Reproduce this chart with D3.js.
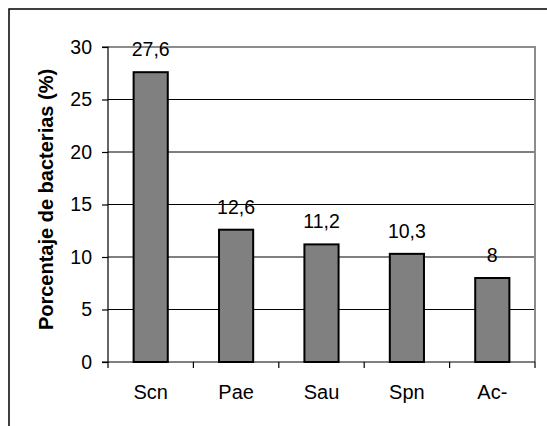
<!DOCTYPE html>
<html>
<head>
<meta charset="utf-8">
<script src="https://cdn.jsdelivr.net/npm/d3@7"></script>
<style>
  html, body { margin: 0; padding: 0; background: #fff; }
  svg { display: block; font-family: "Liberation Sans", Arial, sans-serif; }
</style>
</head>
<body>
<svg id="chart" width="547" height="426"></svg>
<script>
const categories = ["Scn", "Pae", "Sau", "Spn", "Ac-"];
const values = [27.6, 12.6, 11.2, 10.3, 8];
const valueLabels = ["27,6", "12,6", "11,2", "10,3", "8"];
const yTicks = [0, 5, 10, 15, 20, 25, 30];
const yTitle = "Porcentaje de bacterias (%)";

const svg = d3.select("#chart");
const W = 547, H = 426;
const plot = { left: 108, right: 535, top: 47, bottom: 362 };

svg.append("rect").attr("width", W).attr("height", H).attr("fill", "#fff");

// outer frame (top and left visible)
svg.append("path")
  .attr("d", `M9,${H} L9,9 L${W},9`)
  .attr("fill", "none").attr("stroke", "#000").attr("stroke-width", 1.5);

const x = d3.scaleBand().domain(categories).range([plot.left, plot.right]).padding(0);
const y = d3.scaleLinear().domain([0, 30]).range([plot.bottom, plot.top]);

// gridlines
svg.append("g").selectAll("line")
  .data(yTicks.filter(t => t > 0 && t < 30))
  .join("line")
  .attr("x1", plot.left).attr("x2", plot.right)
  .attr("y1", d => y(d)).attr("y2", d => y(d))
  .attr("stroke", "#000").attr("stroke-width", 1);

// plot area border (gray top & right)
svg.append("path")
  .attr("d", `M${plot.left},${y(30)} L${plot.right},${y(30)} L${plot.right},${plot.bottom}`)
  .attr("fill", "none").attr("stroke", "#8c8c8c").attr("stroke-width", 2);

// bars
const barW = x.bandwidth() * 0.4;
svg.append("g").selectAll("rect")
  .data(values)
  .join("rect")
  .attr("x", (d, i) => x(categories[i]) + x.bandwidth() / 2 - barW / 2)
  .attr("y", d => y(d))
  .attr("width", barW)
  .attr("height", d => y(0) - y(d))
  .attr("fill", "#808080")
  .attr("stroke", "#000")
  .attr("stroke-width", 2);

// value labels
svg.append("g").selectAll("text")
  .data(values)
  .join("text")
  .attr("x", (d, i) => x(categories[i]) + x.bandwidth() / 2)
  .attr("y", d => y(d) - 16)
  .attr("text-anchor", "middle")
  .attr("font-size", 19.5)
  .attr("fill", "#000")
  .text((d, i) => valueLabels[i]);

// y axis
const yAxis = d3.axisLeft(y).tickValues(yTicks).tickSize(6).tickPadding(10).tickFormat(d3.format("d"));
const gy = svg.append("g").attr("transform", `translate(${plot.left},0)`).call(yAxis);
gy.attr("font-size", 19.5).attr("font-family", "Liberation Sans, Arial, sans-serif");
gy.select(".domain").attr("stroke", "#000").attr("stroke-width", 1.2).attr("d", `M-6,${plot.top}H0V${plot.bottom}H-6`);
gy.selectAll(".tick line").attr("stroke", "#000").attr("stroke-width", 1.2);
gy.selectAll(".tick text").attr("font-size", 19.5).attr("fill", "#000");

// x axis
const gx = svg.append("g").attr("transform", `translate(0,${plot.bottom})`);
gx.append("line").attr("x1", plot.left).attr("x2", plot.right).attr("y1", 0).attr("y2", 0)
  .attr("stroke", "#000").attr("stroke-width", 1.2);
const boundaries = categories.map(c => x(c)).concat([x(categories[categories.length - 1]) + x.bandwidth()]);
gx.selectAll("line.tk").data(boundaries).join("line").attr("class", "tk")
  .attr("x1", d => d).attr("x2", d => d).attr("y1", 0).attr("y2", 6)
  .attr("stroke", "#000").attr("stroke-width", 1.2);
gx.selectAll("text").data(categories).join("text")
  .attr("x", d => x(d) + x.bandwidth() / 2)
  .attr("y", 36.5)
  .attr("text-anchor", "middle")
  .attr("font-size", 20)
  .attr("fill", "#000")
  .text(d => d);

// y title
svg.append("text")
  .attr("transform", `translate(53,${(plot.top + plot.bottom) / 2 - 5}) rotate(-90)`)
  .attr("text-anchor", "middle")
  .attr("font-size", 20)
  .attr("font-weight", "bold")
  .attr("fill", "#000")
  .text(yTitle);
</script>
</body>
</html>
